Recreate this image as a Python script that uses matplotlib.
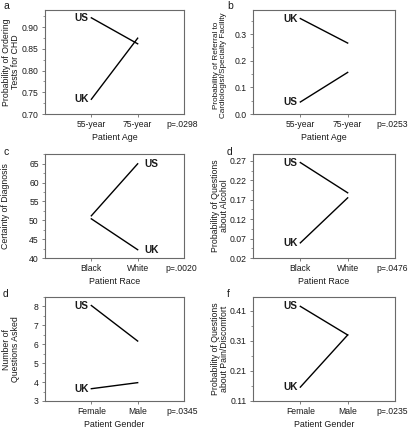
import matplotlib
matplotlib.use("Agg")
import matplotlib.pyplot as plt
from matplotlib.ticker import AutoMinorLocator

plt.rcParams["font.family"] = ["Liberation Sans", "DejaVu Sans"]

# panel data
panel_letters = ["a", "b", "c", "d", "d", "f"]
ylabels = [
    "Probability of Ordering\nTests for CHD",
    "Probability of Referral to\nCardiologist/Specialty Facility",
    "Certainty of Diagnosis",
    "Probability of Questions\nabout Alcohol",
    "Number of\nQuestions Asked",
    "Probability of Questions\nabout Pain/Discomfort",
]
xlabels = ["Patient Age", "Patient Age", "Patient Race", "Patient Race",
           "Patient Gender", "Patient Gender"]
categories = [
    ["55-year", "75-year"],
    ["55-year", "75-year"],
    ["Black", "White"],
    ["Black", "White"],
    ["Female", "Male"],
    ["Female", "Male"],
]
us_values = [
    [0.922, 0.862],
    [0.045, 0.156],
    [51.2, 65.0],
    [0.266, 0.188],
    [8.05, 6.17],
    [0.424, 0.329],
]
uk_values = [
    [0.734, 0.875],
    [0.358, 0.266],
    [50.4, 42.2],
    [0.059, 0.175],
    [3.65, 3.97],
    [0.156, 0.329],
]
p_values = ["p=.0298", "p=.0253", "p=.0020", "p=.0476", "p=.0345", "p=.0235"]
yticks = [
    [0.70, 0.75, 0.80, 0.85, 0.90],
    [0.0, 0.1, 0.2, 0.3],
    [40, 45, 50, 55, 60, 65],
    [0.02, 0.07, 0.12, 0.17, 0.22, 0.27],
    [3, 4, 5, 6, 7, 8],
    [0.11, 0.21, 0.31, 0.41],
]
ytick_labels = [
    ["0.70", "0.75", "0.80", "0.85", "0.90"],
    ["0.0", "0.1", "0.2", "0.3"],
    ["40", "45", "50", "55", "60", "65"],
    ["0.02", "0.07", "0.12", "0.17", "0.22", "0.27"],
    ["3", "4", "5", "6", "7", "8"],
    ["0.11", "0.21", "0.31", "0.41"],
]
ylims = [(0.70, 0.94), (0.0, 0.39), (40, 67.6), (0.02, 0.288), (3, 8.5), (0.11, 0.455)]
label_side = ["left", "left", "right", "left", "left", "left"]

W, H = 409, 428
fig = plt.figure(figsize=(W / 100, H / 100), dpi=100)

col_left = [45, 253]
col_width = [139, 142]
row_top = [10, 154, 297]
ax_height = 104
ylabel_x = [11, 220]
letter_x = [3, 227]
letter_y = [6, 152, 294]

text_color = "#1a1a1a"
spine_color = "#6a6a6a"
tick_fs = 6.2

for i in range(6):
    r, c = divmod(i, 2)
    left, top = col_left[c], row_top[r]
    ax = fig.add_axes([left / W, 1 - (top + ax_height) / H, col_width[c] / W, ax_height / H])

    xs = [1, 2]
    ax.plot(xs, us_values[i], color="black", lw=1.0)
    ax.plot(xs, uk_values[i], color="black", lw=1.0)

    for name, vals in (("US", us_values[i]), ("UK", uk_values[i])):
        if label_side[i] == "left":
            ax.annotate(name, xy=(xs[0], vals[0]), xytext=(-2, 0), textcoords="offset points",
                        ha="right", va="center", fontsize=7.2, fontweight="bold", color=text_color)
        else:
            ax.annotate(name, xy=(xs[1], vals[1]), xytext=(5, 0), textcoords="offset points",
                        ha="left", va="center", fontsize=7.2, fontweight="bold", color=text_color)

    ax.set_xlim(0, 3)
    ax.set_ylim(*ylims[i])
    ax.set_xticks(xs)
    ax.set_xticklabels(categories[i])
    ax.set_yticks(yticks[i])
    ax.set_yticklabels(ytick_labels[i])
    ax.yaxis.set_minor_locator(AutoMinorLocator(2))
    ax.tick_params(axis="both", which="major", length=2.5, width=0.6, color=spine_color,
                   labelsize=tick_fs, labelcolor=text_color, pad=2)
    ax.tick_params(axis="y", which="minor", length=1.5, width=0.5, color=spine_color)
    for sp in ax.spines.values():
        sp.set_color(spine_color)
        sp.set_linewidth(0.8)

    ax.annotate(p_values[i], xy=(2.95, 0), xycoords=("data", "axes fraction"),
                xytext=(0, -4.5), textcoords="offset points", ha="center", va="top",
                fontsize=tick_fs, color=text_color)
    ax.set_xlabel(xlabels[i], fontsize=6.4, color=text_color, labelpad=3)

    yl_x = ylabel_x[c] if "\n" in ylabels[i] else ylabel_x[c] - 5
    yl_fs = 6.3 if len(ylabels[i]) < 50 else 5.9
    yl_y = top + ax_height / 2 + (3 if len(ylabels[i]) >= 50 else 0)
    fig.text(yl_x / W, 1 - yl_y / H, ylabels[i], rotation=90,
             ha="center", va="center", fontsize=yl_fs, color=text_color, linespacing=1.1)
    fig.text(letter_x[c] / W, 1 - letter_y[r] / H, panel_letters[i], ha="left", va="center",
             fontsize=7.5, color=text_color)

fig.savefig("out.png", dpi=100)
